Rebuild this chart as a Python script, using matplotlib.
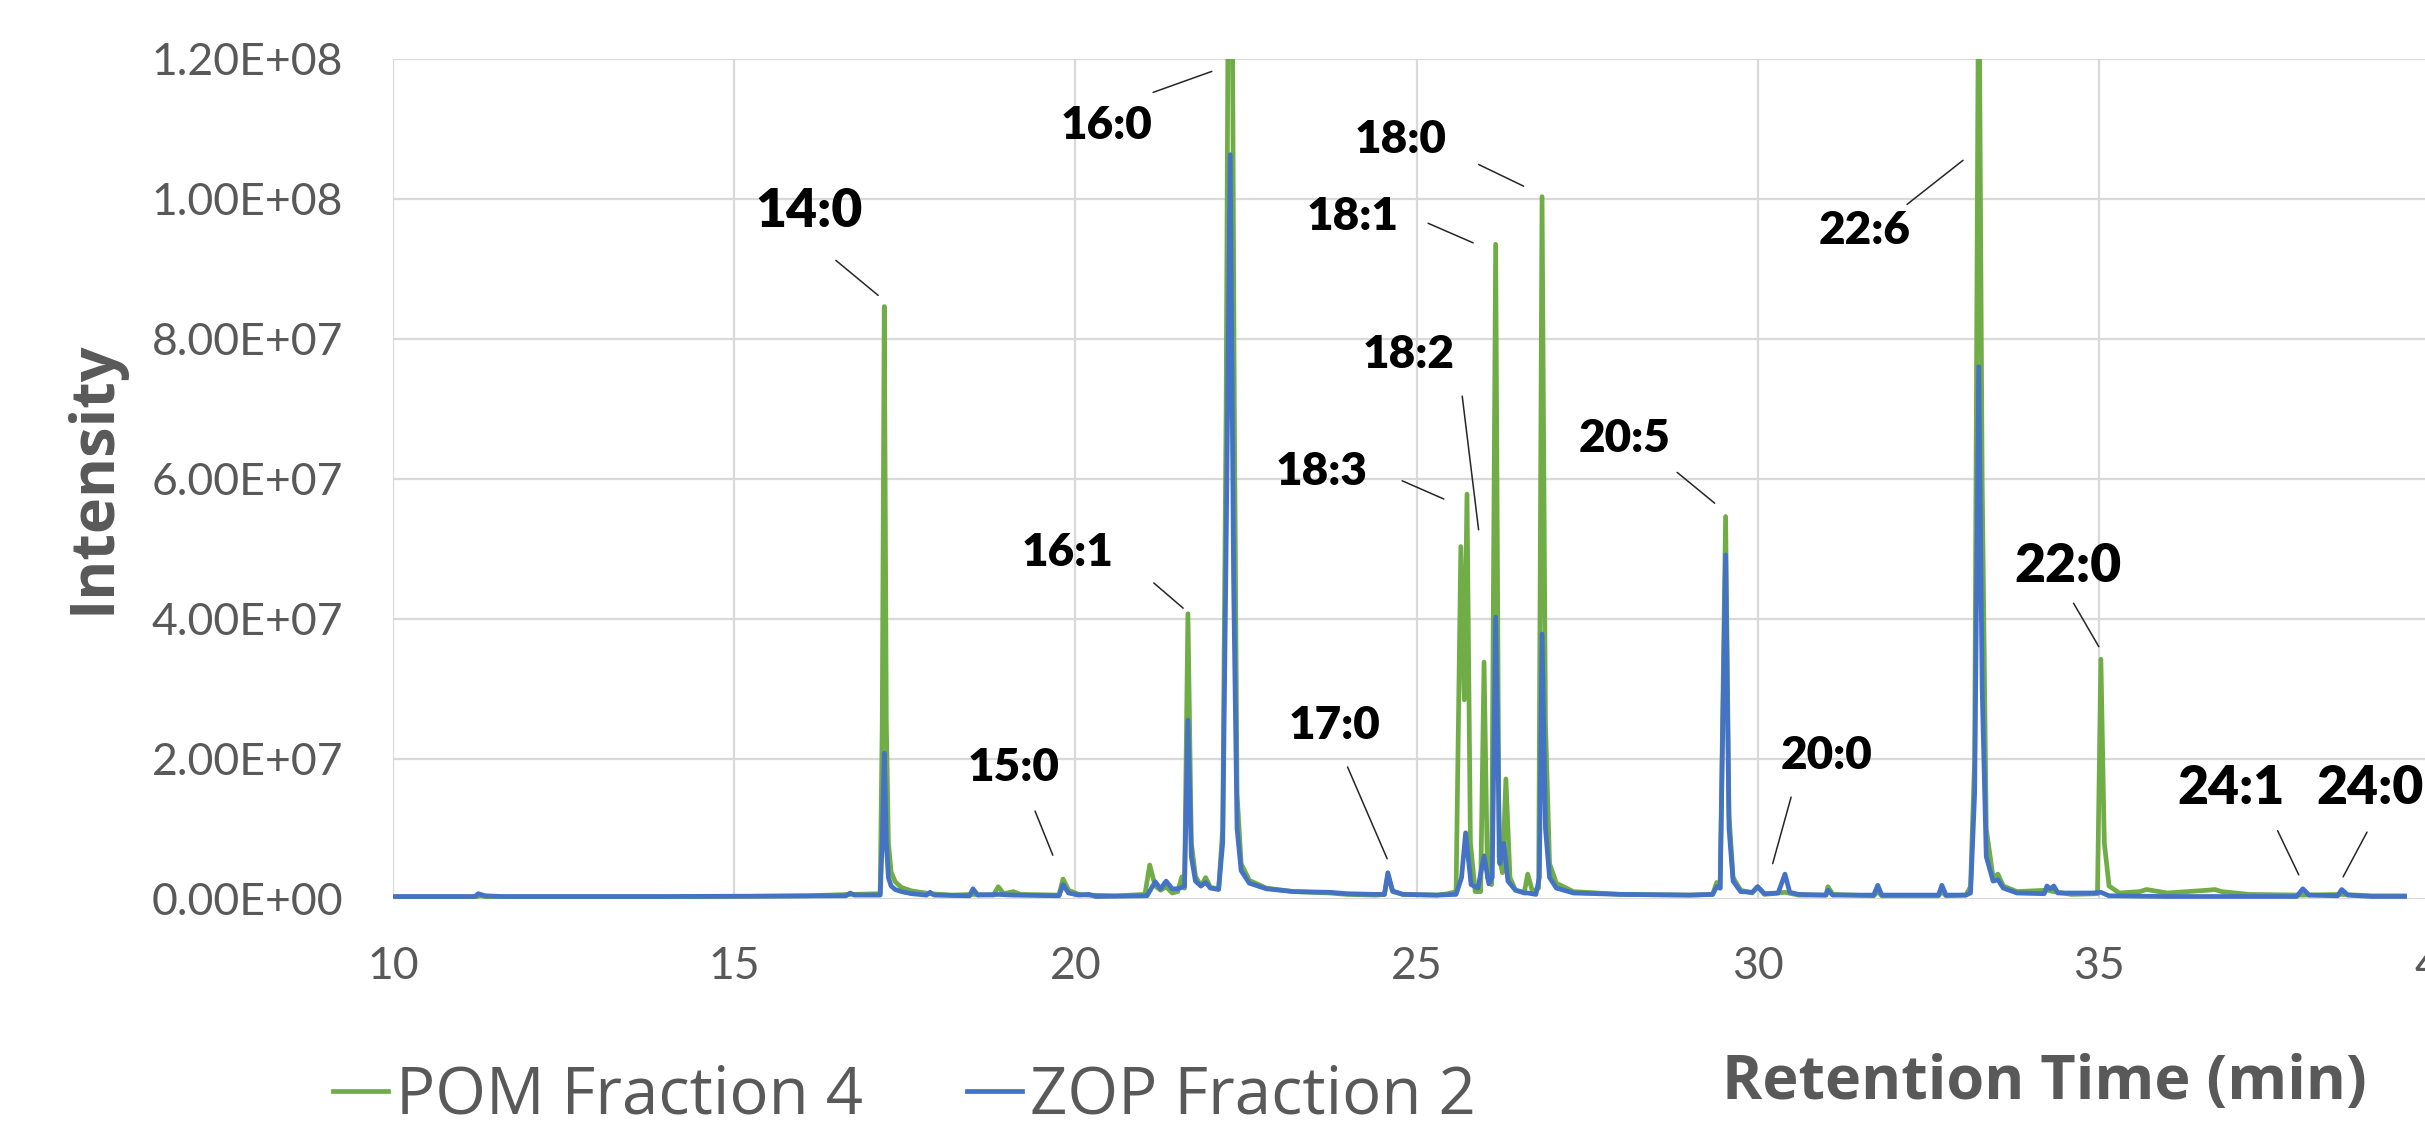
import matplotlib.pyplot as plt

# retention time (min) and intensity (x 1e6)
pom_time = [10.00, 11.20, 11.28, 11.40, 14.00, 16.07, 16.70, 17.14, 17.17, 17.20, 17.23, 17.26, 17.30, 17.36,
            17.45, 17.60, 17.87, 18.20, 18.50, 18.80, 18.87, 18.95, 19.09, 19.20, 19.76, 19.82, 19.90, 20.05,
            20.20, 20.60, 21.02, 21.09, 21.17, 21.25, 21.33, 21.42, 21.50, 21.56, 21.60, 21.65, 21.70, 21.76,
            21.84, 21.91, 21.98, 22.10, 22.16, 22.21, 22.25, 22.29, 22.33, 22.37, 22.43, 22.55, 22.80, 23.20,
            23.73, 23.98, 24.40, 24.53, 24.58, 24.65, 24.80, 25.30, 25.46, 25.58, 25.65, 25.70, 25.74, 25.79,
            25.86, 25.94, 25.99, 26.04, 26.10, 26.16, 26.21, 26.26, 26.31, 26.37, 26.45, 26.58, 26.63, 26.70,
            26.79, 26.84, 26.89, 26.95, 27.05, 27.30, 28.00, 29.00, 29.34, 29.40, 29.45, 29.53, 29.58, 29.64,
            29.75, 29.92, 30.00, 30.10, 30.40, 30.60, 31.00, 31.03, 31.10, 31.70, 31.76, 31.82, 32.65, 32.70,
            32.76, 33.05, 33.12, 33.18, 33.24, 33.29, 33.35, 33.45, 33.52, 33.60, 33.80, 34.24, 34.34, 34.60,
            34.98, 35.03, 35.08, 35.15, 35.30, 35.60, 35.70, 36.00, 36.60, 36.70, 36.80, 37.20, 37.99, 38.56,
            39.00, 39.48]
pom_int = [0.2, 0.2, 0.4, 0.2, 0.2, 0.4, 0.6, 0.7, 25, 84.6, 25, 8, 3.8, 2.4,
           1.6, 1.1, 0.7, 0.5, 0.6, 0.5, 1.7, 0.7, 1.0, 0.6, 0.5, 2.8, 1.2, 0.6,
           0.5, 0.4, 0.6, 4.8, 1.8, 1.2, 1.7, 0.8, 1.0, 3.1, 1.5, 40.7, 8, 3.2,
           1.8, 3.0, 1.6, 1.4, 10, 70, 150, 150, 70, 15, 5, 2.6, 1.5, 1.0,
           0.8, 0.6, 0.5, 0.6, 3.3, 1.0, 0.6, 0.5, 0.7, 1.0, 50.3, 28.4, 57.8, 8,
           1.0, 1.0, 33.8, 3, 2, 93.5, 6, 3.7, 17.1, 3, 1.2, 0.9, 3.5, 1.0,
           1.5, 100.3, 25, 5, 2.2, 1.0, 0.6, 0.5, 0.6, 2.3, 1.5, 54.6, 12, 3.0,
           1.2, 0.8, 1.7, 0.6, 0.9, 0.5, 0.5, 1.7, 0.6, 0.4, 1.0, 0.4, 0.4, 1.0,
           0.4, 0.5, 1.7, 20, 140, 60, 10, 3, 3.5, 1.8, 1.0, 1.2, 1.0, 0.6,
           0.7, 34.2, 8, 1.8, 0.8, 1.0, 1.3, 0.8, 1.2, 1.3, 1.0, 0.6, 0.5, 0.6,
           0.4, 0.4]

zop_time = [10.00, 11.20, 11.25, 11.35, 11.60, 14.00, 16.64, 16.70, 16.76, 17.14, 17.17, 17.20, 17.23, 17.26,
            17.30, 17.36, 17.45, 17.60, 17.82, 17.87, 17.93, 18.45, 18.50, 18.57, 18.87, 19.09, 19.76, 19.82,
            19.90, 20.05, 20.20, 20.30, 21.05, 21.17, 21.25, 21.33, 21.42, 21.50, 21.56, 21.60, 21.65, 21.70,
            21.76, 21.84, 21.91, 21.98, 22.10, 22.16, 22.21, 22.27, 22.32, 22.37, 22.43, 22.55, 22.80, 23.20,
            23.73, 23.98, 24.40, 24.53, 24.58, 24.65, 24.80, 25.30, 25.58, 25.66, 25.72, 25.80, 25.90, 25.99,
            26.06, 26.11, 26.16, 26.22, 26.28, 26.34, 26.45, 26.58, 26.63, 26.75, 26.80, 26.84, 26.89, 26.95,
            27.05, 27.30, 28.00, 29.00, 29.34, 29.40, 29.45, 29.53, 29.58, 29.64, 29.75, 29.92, 30.00, 30.10,
            30.30, 30.40, 30.47, 30.60, 31.00, 31.03, 31.10, 31.70, 31.76, 31.82, 32.65, 32.70, 32.76, 33.05,
            33.12, 33.18, 33.24, 33.29, 33.35, 33.45, 33.52, 33.60, 33.80, 34.20, 34.24, 34.29, 34.34, 34.40,
            34.90, 35.03, 35.15, 36.00, 37.90, 37.99, 38.08, 38.50, 38.56, 38.65, 39.00, 39.48]
zop_int = [0.3, 0.3, 0.7, 0.4, 0.3, 0.3, 0.4, 0.8, 0.5, 0.5, 8, 20.8, 8, 3,
           1.8, 1.3, 1.0, 0.7, 0.5, 0.9, 0.5, 0.4, 1.4, 0.5, 0.6, 0.5, 0.4, 2.0,
           0.8, 0.5, 0.6, 0.3, 0.4, 2.4, 1.4, 2.5, 1.4, 1.4, 1.6, 1.8, 25.5, 6,
           2.5, 1.8, 2.3, 1.5, 1.3, 8, 50, 106.3, 45, 10, 4, 2.2, 1.4, 1.0,
           0.9, 0.7, 0.6, 0.6, 3.7, 1.1, 0.6, 0.5, 0.6, 3, 9.4, 2.0, 1.5, 6.1,
           2.1, 3, 40.2, 5, 7.9, 2.5, 1.2, 0.8, 0.8, 0.6, 3, 37.8, 10, 3,
           1.5, 0.8, 0.6, 0.5, 0.6, 1.7, 1.5, 49.1, 10, 2.5, 1.0, 0.9, 1.7, 0.7,
           0.8, 3.5, 0.9, 0.6, 0.5, 1.2, 0.5, 0.5, 1.9, 0.5, 0.5, 1.9, 0.5, 0.5,
           0.8, 15, 76.0, 30, 6, 2.5, 2.7, 1.5, 0.8, 0.7, 1.8, 1.4, 1.8, 0.8,
           0.8, 0.9, 0.4, 0.3, 0.3, 1.4, 0.5, 0.4, 1.3, 0.5, 0.3, 0.3]

# peak labels: text centre, leader start, leader end (time, intensity x 1e6)
peak_names = ['14:0', '15:0', '16:1', '16:0', '17:0', '18:3', '18:2', '18:1',
              '18:0', '20:5', '20:0', '22:6', '22:0', '24:1', '24:0']
label_pos = [(16.10, 98.2), (19.10, 18.8), (19.89, 49.4), (20.46, 110.5), (23.80, 24.8),
             (23.61, 61.1), (24.89, 77.8), (24.07, 97.4), (24.77, 108.4), (28.05, 65.8),
             (31.01, 20.4), (31.57, 95.4), (34.55, 47.4), (36.93, 15.8), (38.97, 15.8)]
leader_from = [(16.49, 91.2), (19.41, 12.5), (21.15, 45.1), (21.14, 115.2), (23.99, 18.8),
               (24.79, 59.7), (25.67, 71.8), (25.17, 96.5), (25.91, 104.9), (28.82, 60.9),
               (30.49, 14.5), (32.19, 99.2), (34.63, 42.2), (37.62, 9.7), (38.93, 9.5)]
leader_to = [(17.11, 86.2), (19.67, 6.2), (21.58, 41.5), (22.00, 118.2), (24.57, 5.7),
             (25.40, 57.1), (25.91, 52.7), (25.83, 93.7), (26.57, 101.8), (29.37, 56.5),
             (30.22, 5.0), (33.01, 105.5), (35.00, 36.0), (37.93, 3.4), (38.58, 3.1)]
big_labels = ['14:0', '22:0', '24:1', '24:0']

GREY = '#595959'
W, H = 2425, 1126

fig = plt.figure(figsize=(W / 100, H / 100), dpi=100)
ax = fig.add_axes([393 / W, (H - 898.6) / H, (2440 - 393) / W, (898.6 - 58.8) / H])

scale = 1e6
ax.plot(pom_time, [v * scale for v in pom_int], color='#70AD47', lw=3.4, label='POM Fraction 4',
        solid_joinstyle='round')
ax.plot(zop_time, [v * scale for v in zop_int], color='#4472C4', lw=3.4, label='ZOP Fraction 2',
        solid_joinstyle='round')

ax.set_xlim(10, 40)
ax.set_ylim(0, 1.2e8)
ax.set_xticks(range(10, 41, 5))
ax.set_yticks([i * 2e7 for i in range(7)])
ax.set_yticklabels(['%.2E' % (i * 2e7) for i in range(7)])
ax.grid(True, color='#D9D9D9', lw=1.6)
ax.set_axisbelow(True)
for s in ax.spines.values():
    s.set_visible(False)
ax.tick_params(length=0, labelsize=32, labelcolor=GREY)
ax.tick_params(axis='y', pad=36)
ax.tick_params(axis='x', pad=34)
for lab in ax.get_xticklabels() + ax.get_yticklabels():
    lab.set_fontfamily('Lato')

for name, pos, a, b in zip(peak_names, label_pos, leader_from, leader_to):
    size = 38.5 if name in big_labels else 33
    ax.text(pos[0], pos[1] * scale, name, ha='center', va='center', fontsize=size,
            fontweight='heavy', family='Lato', color='black', clip_on=False)
    ax.annotate('', xy=(b[0], b[1] * scale), xytext=(a[0], a[1] * scale),
                arrowprops=dict(arrowstyle='-', color='#262626', lw=1.1, shrinkA=0, shrinkB=0),
                annotation_clip=False)

fig.text(94 / W, 1 - 477 / H, 'Intensity', rotation=90, ha='center', va='center',
         fontsize=44, fontweight='bold', family='Open Sans', color=GREY)
fig.text(2044 / W, 1 - 1083 / H, 'Retention Time (min)', ha='center', va='center',
         fontsize=44, fontweight='bold', family='Open Sans', color=GREY)

leg = fig.legend(loc='center left', bbox_to_anchor=(333 / W, 1 - 1097 / H), ncol=2, frameon=False,
                 prop={'family': 'Open Sans', 'size': 47}, handlelength=0.84, handletextpad=0.12,
                 columnspacing=1.6, borderpad=0, borderaxespad=0)
for t in leg.get_texts():
    t.set_color(GREY)

fig.savefig('out.png', dpi=100)
